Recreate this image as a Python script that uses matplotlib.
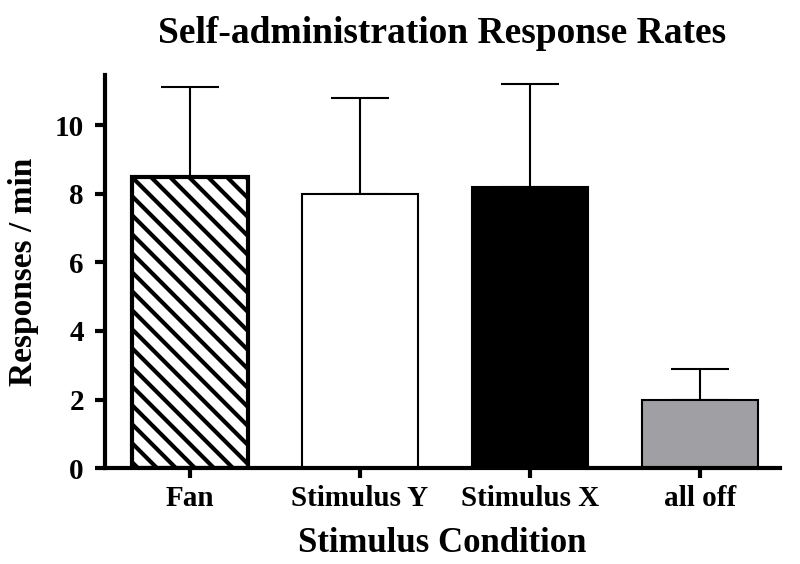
import numpy as np
import matplotlib
matplotlib.use("Agg")
import matplotlib.pyplot as plt
from matplotlib.collections import LineCollection
from matplotlib.transforms import IdentityTransform

# data
conditions = ["Fan", "Stimulus Y", "Stimulus X", "all off"]
means = [8.5, 8.0, 8.2, 2.0]
errors_up = [2.6, 2.8, 3.0, 0.9]

plt.rcParams['font.family'] = ['Liberation Serif', 'DejaVu Serif']
plt.rcParams['font.weight'] = 'bold'

fig = plt.figure(figsize=(8, 5.64), dpi=100)
ax = fig.add_axes([0.131, 0.170, 0.844, 0.697])

x = np.arange(len(conditions))
faces = ['white', 'white', 'black', '#a0a0a4']
edge_w = [3.0, 1.5, 1.5, 1.5]

ax.set_xlim(-0.5, 3.47)
ax.set_ylim(0, 11.46)

bars = ax.bar(x, means, width=0.68, color=faces, edgecolor='black',
              linewidth=edge_w, zorder=2)

ax.errorbar(x, means, yerr=[np.zeros(len(means)), errors_up], fmt='none',
            ecolor='black', elinewidth=1.5, capsize=21, capthick=1.5, zorder=1)

# diagonal hatching on the first bar, in pixel space, cut to the bar box
rect = bars[0]
bb = rect.get_window_extent(renderer=fig.canvas.get_renderer())
step = 19
segs = []
for c in np.arange(bb.x0 + bb.y0 + 6, bb.x1 + bb.y1, step):
    xa = max(bb.x0, c - bb.y1)
    xb = min(bb.x1, c - bb.y0)
    if xb > xa:
        segs.append([(xa, c - xa), (xb, c - xb)])
hatch = LineCollection(segs, colors='black', linewidths=3.0,
                       transform=IdentityTransform(), zorder=2.5)
ax.add_collection(hatch, autolim=False)
hatch.set_clip_on(False)
rect.set_zorder(3)
rect.set_facecolor('none')
ax.bar(x[0], means[0], width=0.68, color='white', linewidth=0, zorder=1.5)

ax.set_yticks([0, 2, 4, 6, 8, 10])
ax.set_xticks(x)
ax.set_xticklabels(conditions)

for side in ['top', 'right']:
    ax.spines[side].set_visible(False)
for side in ['left', 'bottom']:
    ax.spines[side].set_linewidth(3)
ax.tick_params(axis='both', width=3, length=7, labelsize=21, direction='out')
ax.tick_params(axis='x', pad=5)
ax.tick_params(axis='y', pad=8)
for lab in ax.get_xticklabels() + ax.get_yticklabels():
    lab.set_fontweight('bold')

ax.set_ylabel('Responses / min', fontsize=24, fontweight='bold', labelpad=11)
ax.set_xlabel('Stimulus Condition', fontsize=25, fontweight='bold', labelpad=11)
ax.set_title('Self-administration Response Rates', fontsize=27, fontweight='bold', pad=23)

fig.savefig('out.png', dpi=100)
